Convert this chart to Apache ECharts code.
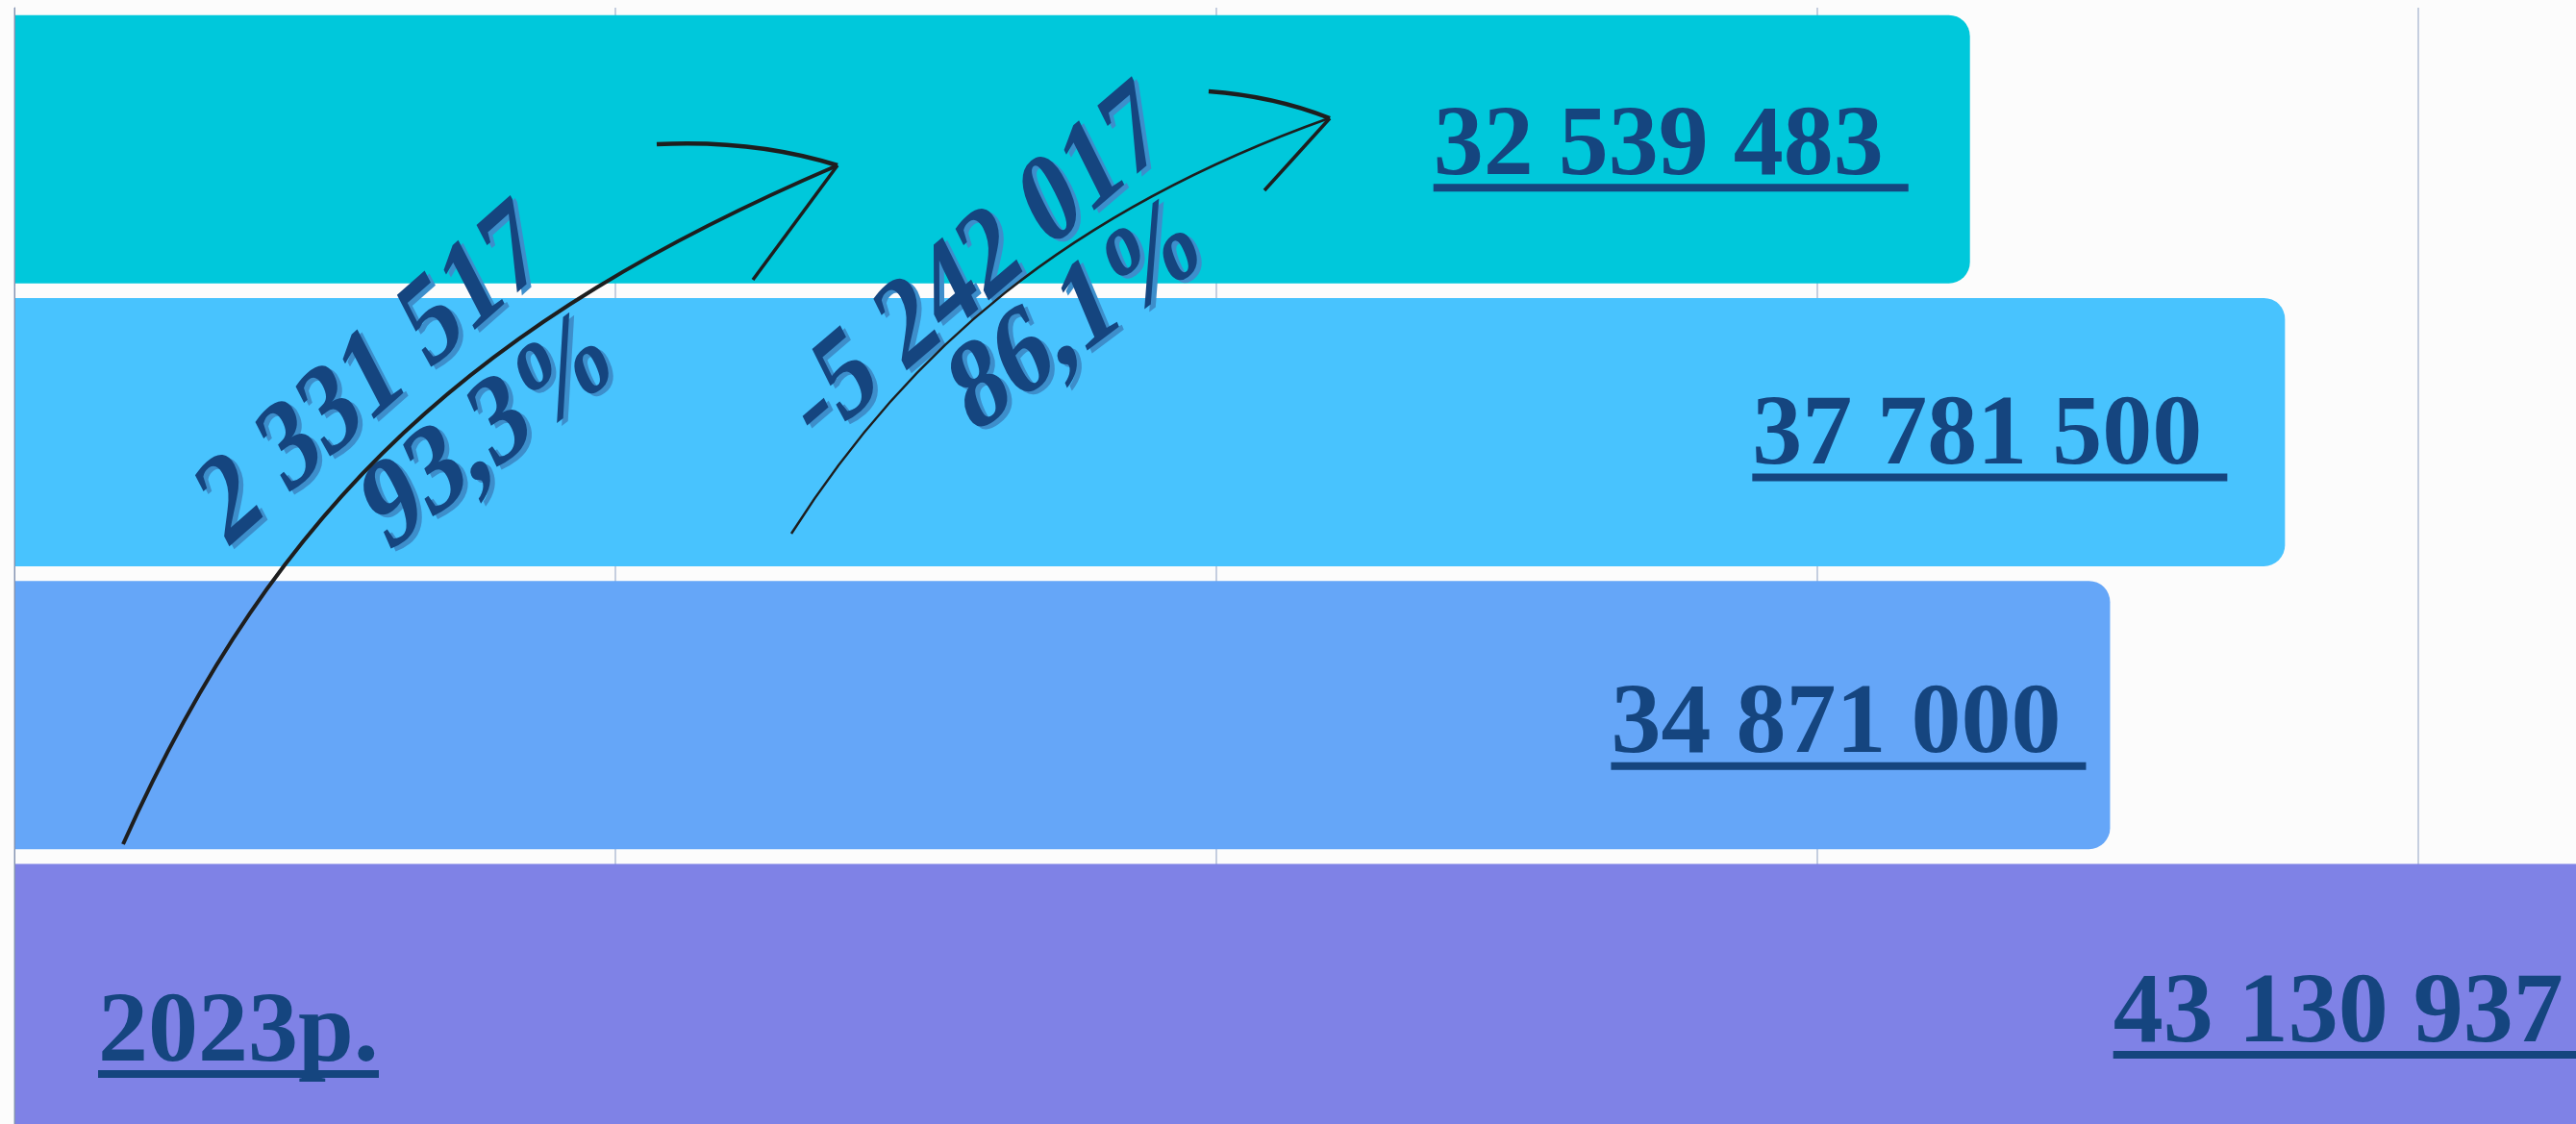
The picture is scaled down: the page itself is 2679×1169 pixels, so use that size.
<!DOCTYPE html>
<html>
<head>
<meta charset="utf-8">
<title>bars</title>
<script src="https://cdn.jsdelivr.net/npm/echarts@6/dist/echarts.min.js"></script>
<style>
html, body { margin: 0; padding: 0; background: #fcfcfc; }
#main { width: 2679px; height: 1169px; }
</style>
</head>
<body>
<div id="main"></div>
<script>
// data
var categories = ['', '', '', '2023р.'];
var values = [32539483, 37781500, 34871000, 43130937];
var changeValues = ['2 331 517', '-5 242 017'];
var changePercents = ['93,3%', '86,1%'];
var axisMax = 50000000;
var axisStep = 10000000;

var ink = '#15457f';
var serif = '"Liberation Serif", "DejaVu Serif", serif';

function fmt(v) {
    return String(v).replace(/\B(?=(\d{3})+(?!\d))/g, ' ');
}

// measure text so the underline token gets the same width
var ctx = document.createElement('canvas').getContext('2d');
ctx.font = 'bold 104px ' + serif;
function textW(s) {
    return Math.round(ctx.measureText(s).width);
}

var valueRich = {
    v: { fontFamily: serif, fontWeight: 'bold', fontSize: 104, color: ink, lineHeight: 74 }
};
values.forEach(function (v, i) {
    valueRich['u' + i] = { width: textW(fmt(v) + ' '), height: 8, lineHeight: 8, fontSize: 1, backgroundColor: ink };
});

var catRich = {
    v: { fontFamily: serif, fontWeight: 'bold', fontSize: 104, color: ink, lineHeight: 74 }
};
categories.forEach(function (c, i) {
    catRich['c' + i] = { width: textW(c), height: 8, lineHeight: 8, fontSize: 1, backgroundColor: ink };
});

var barColors = ['#00c8db', '#48c3fe', '#65a6f8', '#7f82e6'];
var labelOffsets = [[-64, 3], [-60, 10], [-25, 16], [-19, 22]];

// slanted, rotated text with a hard light-blue shadow
function wordArt(text, x, y, deg, size) {
    var base = {
        type: 'text',
        rotation: deg * Math.PI / 180,
        skewX: -14 * Math.PI / 180,
        scaleY: 1.1,
        z: 60,
        style: {
            text: text,
            font: 'bold ' + size + 'px ' + serif,
            align: 'center',
            verticalAlign: 'middle'
        }
    };
    var shadow = echarts.util.merge({ x: x + 5, y: y + 3, style: { fill: '#3d8ecb' } }, base);
    var front = echarts.util.merge({ x: x, y: y, style: { fill: ink } }, base);
    return [shadow, front];
}

var pen = '#1e1e1e';
var graphics = [
    // arrow 1
    { type: 'bezierCurve', z: 70, shape: { x1: 128, y1: 878, cpx1: 289, cpy1: 518, cpx2: 498, cpy2: 332, x2: 871, y2: 172 }, style: { stroke: pen, lineWidth: 4, fill: null } },
    { type: 'bezierCurve', z: 70, shape: { x1: 683, y1: 150, cpx1: 785, cpy1: 145, x2: 871, y2: 172 }, style: { stroke: pen, lineWidth: 4.5, fill: null } },
    { type: 'line', z: 70, shape: { x1: 871, y1: 172, x2: 783, y2: 291 }, style: { stroke: pen, lineWidth: 3.5 } },
    // arrow 2
    { type: 'bezierCurve', z: 70, shape: { x1: 823, y1: 555, cpx1: 943, cpy1: 366, cpx2: 1108, cpy2: 221, x2: 1382, y2: 123 }, style: { stroke: pen, lineWidth: 2.5, fill: null } },
    { type: 'bezierCurve', z: 70, shape: { x1: 1257, y1: 95, cpx1: 1325, cpy1: 100, x2: 1383, y2: 123 }, style: { stroke: pen, lineWidth: 4.5, fill: null } },
    { type: 'line', z: 70, shape: { x1: 1383, y1: 123, x2: 1315, y2: 198 }, style: { stroke: pen, lineWidth: 3.5 } }
]
    .concat(wordArt(changeValues[0], 388, 394, 41.4, 112))
    .concat(wordArt(changePercents[0], 511, 451, 37.8, 112))
    .concat(wordArt(changeValues[1], 1017, 280, 40.5, 112))
    .concat(wordArt(changePercents[1], 1122, 331, 36.7, 112));

var myChart = echarts.init(document.getElementById('main'));
var option = {
    backgroundColor: '#fcfcfc',
    animation: false,
    grid: { left: 15, top: 8, width: 3125, height: 1177, containLabel: false, outerBoundsMode: 'none' },
    xAxis: {
        type: 'value',
        min: 0,
        max: axisMax,
        interval: axisStep,
        axisLabel: { show: false },
        axisLine: { show: false },
        axisTick: { show: false },
        splitLine: { show: true, lineStyle: { color: '#c5cedf', width: 2 } }
    },
    yAxis: {
        type: 'category',
        inverse: true,
        data: categories,
        z: 5,
        axisTick: { show: false },
        axisLine: { show: true, lineStyle: { color: '#8391ad', width: 1 } },
        axisLabel: {
            inside: true,
            interval: 0,
            margin: 87,
            padding: [84, 0, 0, 0],
            formatter: function (val, idx) {
                return val ? '{v|' + val + '}\n{c' + idx + '| }' : '';
            },
            rich: catRich
        }
    },
    series: [{
        type: 'bar',
        barWidth: 279,
        silent: true,
        itemStyle: { borderRadius: [0, 22, 22, 0] },
        label: {
            show: true,
            position: 'insideRight',
            distance: 0,
            formatter: function (p) {
                return '{v|' + fmt(p.value) + ' }\n{u' + p.dataIndex + '| }';
            },
            rich: valueRich
        },
        data: values.map(function (v, i) {
            return { value: v, itemStyle: { color: barColors[i] }, label: { offset: labelOffsets[i] } };
        })
    }],
    graphic: graphics
};
myChart.setOption(option);
window.addEventListener('resize', function () {
    myChart.resize();
});
</script>
</body>
</html>
